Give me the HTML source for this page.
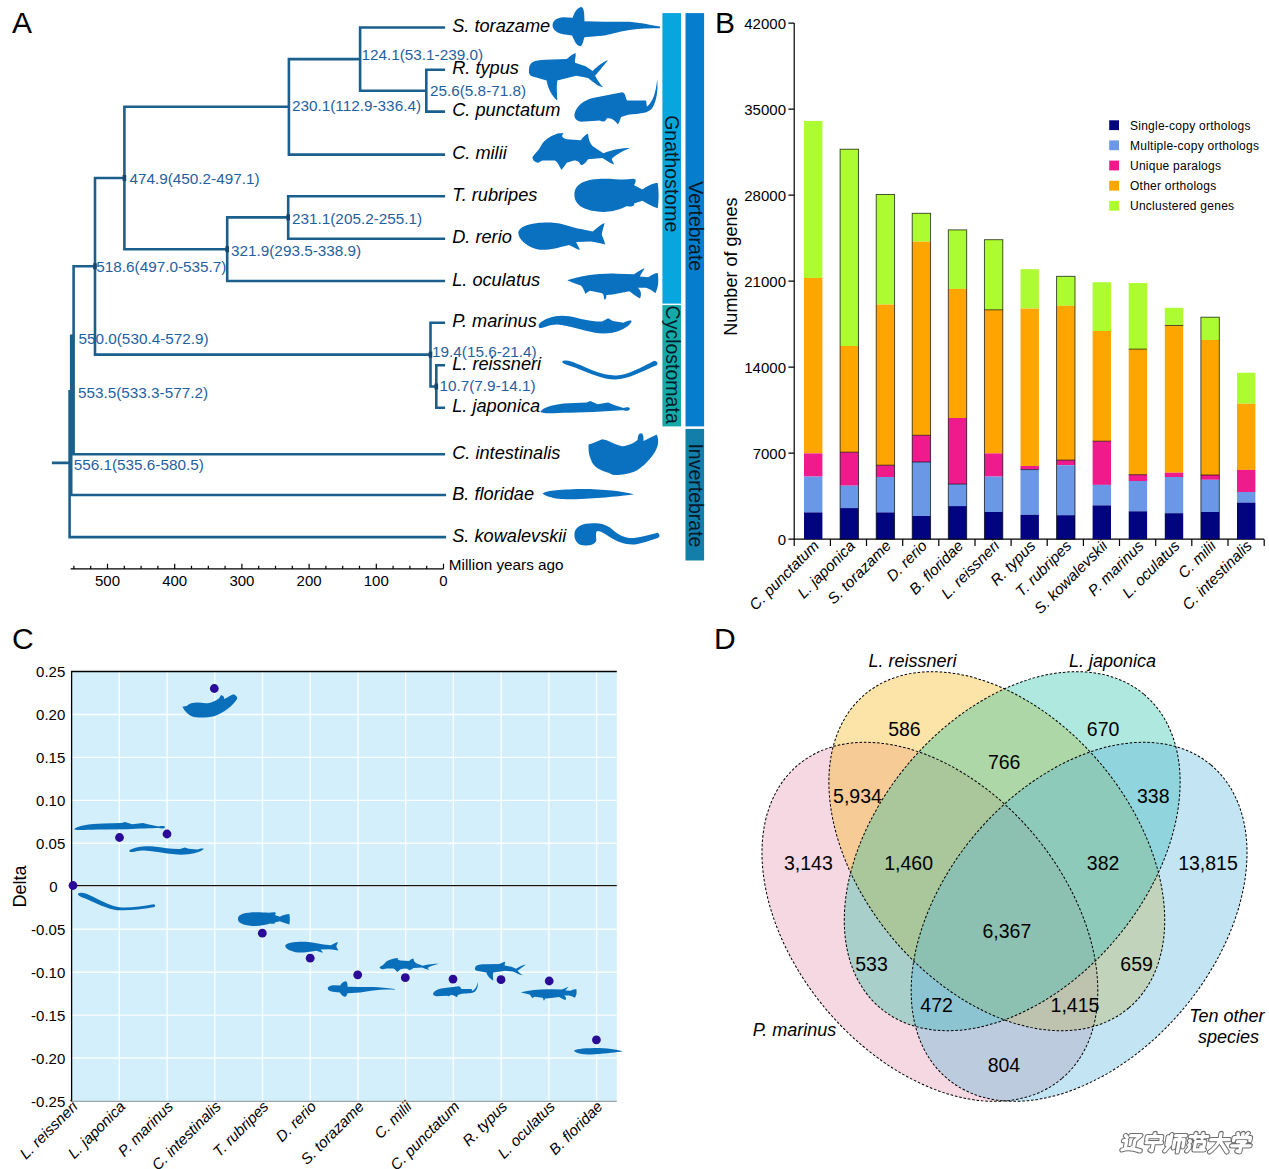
<!DOCTYPE html><html><head><meta charset="utf-8"><style>html,body{margin:0;padding:0;background:#fff;overflow:hidden}svg{display:block}</style></head><body><svg width="1269" height="1169" viewBox="0 0 1269 1169" font-family="'Liberation Sans', sans-serif">
<rect width="1269" height="1169" fill="#fff"/>
<text x="12" y="33" font-size="30" fill="#000">A</text>
<path d="M426.3 69.7V111.6 M426.3 69.7H443.8 M426.3 111.6H443.8 M360.1 27.5V90.7 M360.1 27.5H443.8 M360.1 90.7H426.3 M288.9 59.1V154.6 M288.9 59.1H360.1 M288.9 154.6H443.8 M288.2 196.2V238.7 M288.2 196.2H443.8 M288.2 238.7H443.8 M227.2 217.4V281.0 M227.2 217.4H288.2 M227.2 281.0H443.8 M124.4 106.8V249.2 M124.4 106.8H288.9 M124.4 249.2H227.2 M436.3 365.2V407.8 M436.3 365.2H443.8 M436.3 407.8H443.8 M430.5 322.7V386.5 M430.5 322.7H443.8 M430.5 386.5H436.3 M95.0 178.0V354.6 M95.0 178.0H124.4 M95.0 354.6H430.5 M73.6 266.3V454.3 M73.6 266.3H95.0 M73.6 454.3H443.8 M71.2 335.7V495.0 M71.2 495.0H444.8 M69.6 391.2V537.1 M69.6 537.1H444.8 M53.2 462.9H69.6" stroke="#1b5f8d" stroke-width="2.6" fill="none" stroke-linecap="square"/>
<rect x="122.6" y="175.0" width="3.6" height="6" fill="#17456b"/>
<rect x="225.4" y="246.2" width="3.6" height="6" fill="#17456b"/>
<rect x="93.2" y="263.3" width="3.6" height="6" fill="#17456b"/>
<rect x="286.4" y="214.4" width="3.6" height="6" fill="#17456b"/>
<rect x="428.7" y="351.6" width="3.6" height="6" fill="#17456b"/>
<rect x="434.5" y="383.5" width="3.6" height="6" fill="#17456b"/>
<text x="361.4" y="59.6" font-size="15.3" fill="#1f619f">124.1(53.1-239.0)</text>
<text x="430.0" y="96.4" font-size="15.3" fill="#1f619f">25.6(5.8-71.8)</text>
<text x="292.0" y="110.8" font-size="15.3" fill="#1f619f">230.1(112.9-336.4)</text>
<text x="129.4" y="183.5" font-size="15.3" fill="#1f619f">474.9(450.2-497.1)</text>
<text x="292.0" y="223.6" font-size="15.3" fill="#1f619f">231.1(205.2-255.1)</text>
<text x="231.0" y="256.3" font-size="15.3" fill="#1f619f">321.9(293.5-338.9)</text>
<text x="96.3" y="272.4" font-size="15.3" fill="#1f619f">518.6(497.0-535.7)</text>
<text x="78.5" y="344.3" font-size="15.3" fill="#1f619f">550.0(530.4-572.9)</text>
<text x="77.9" y="398.0" font-size="15.3" fill="#1f619f">553.5(533.3-577.2)</text>
<text x="73.7" y="470.3" font-size="15.3" fill="#1f619f">556.1(535.6-580.5)</text>
<text x="432.1" y="356.5" font-size="15.3" fill="#1f619f">19.4(15.6-21.4)</text>
<text x="439.5" y="391.2" font-size="15.3" fill="#1f619f">10.7(7.9-14.1)</text>
<text x="452.2" y="32.1" font-size="18.2" font-style="italic" fill="#000">S. torazame</text>
<text x="452.2" y="74.3" font-size="18.2" font-style="italic" fill="#000">R. typus</text>
<text x="452.2" y="116.2" font-size="18.2" font-style="italic" fill="#000">C. punctatum</text>
<text x="452.2" y="159.2" font-size="18.2" font-style="italic" fill="#000">C. milii</text>
<text x="452.2" y="200.8" font-size="18.2" font-style="italic" fill="#000">T. rubripes</text>
<text x="452.2" y="243.3" font-size="18.2" font-style="italic" fill="#000">D. rerio</text>
<text x="452.2" y="285.6" font-size="18.2" font-style="italic" fill="#000">L. oculatus</text>
<text x="452.2" y="327.3" font-size="18.2" font-style="italic" fill="#000">P. marinus</text>
<text x="452.2" y="369.8" font-size="18.2" font-style="italic" fill="#000">L. reissneri</text>
<text x="452.2" y="412.4" font-size="18.2" font-style="italic" fill="#000">L. japonica</text>
<text x="452.2" y="458.9" font-size="18.2" font-style="italic" fill="#000">C. intestinalis</text>
<text x="452.2" y="499.6" font-size="18.2" font-style="italic" fill="#000">B. floridae</text>
<text x="452.2" y="541.7" font-size="18.2" font-style="italic" fill="#000">S. kowalevskii</text>
<path d="M70.6 568.8H443.5 M443.5 568.8V563.8 M426.7 568.8V565.8 M409.9 568.8V565.8 M393.1 568.8V565.8 M376.3 568.8V563.8 M359.5 568.8V565.8 M342.7 568.8V565.8 M325.9 568.8V565.8 M309.1 568.8V563.8 M292.3 568.8V565.8 M275.5 568.8V565.8 M258.7 568.8V565.8 M241.9 568.8V563.8 M225.1 568.8V565.8 M208.3 568.8V565.8 M191.5 568.8V565.8 M174.7 568.8V563.8 M157.9 568.8V565.8 M141.1 568.8V565.8 M124.3 568.8V565.8 M107.5 568.8V563.8 M90.7 568.8V565.8 M73.9 568.8V565.8" stroke="#000" stroke-width="1.2" fill="none"/>
<text x="107.5" y="586" font-size="15" text-anchor="middle" fill="#000">500</text>
<text x="174.7" y="586" font-size="15" text-anchor="middle" fill="#000">400</text>
<text x="241.9" y="586" font-size="15" text-anchor="middle" fill="#000">300</text>
<text x="309.1" y="586" font-size="15" text-anchor="middle" fill="#000">200</text>
<text x="376.3" y="586" font-size="15" text-anchor="middle" fill="#000">100</text>
<text x="443.5" y="586" font-size="15" text-anchor="middle" fill="#000">0</text>
<text x="448.8" y="570" font-size="15.3" fill="#000">Million years ago</text>
<rect x="662.4" y="13.1" width="18.6" height="290.5" fill="#08a6de"/>
<rect x="662.4" y="305.1" width="18.6" height="121.3" fill="#14aaa8"/>
<rect x="685.5" y="13.1" width="18.6" height="413.3" fill="#047ecd"/>
<rect x="685.5" y="428.9" width="18.6" height="131.6" fill="#137eaa"/>
<text transform="translate(665.4,115.2) rotate(90)" font-size="19.5" fill="#061a2a">Gnathostome</text>
<text transform="translate(689.4,181.2) rotate(90)" font-size="19.5" fill="#061a2a">Vertebrate</text>
<text transform="translate(666.4,305.6) rotate(90)" font-size="19.5" fill="#061a2a">Cyclostomata</text>
<text transform="translate(689.4,443.4) rotate(90)" font-size="19.5" fill="#061a2a">Invertebrate</text>
<path d="M360,215 C360,170 400,150 450,145 L530,150 C540,120 560,70 600,60 C625,60 630,110 630,180 L800,185 L950,185 C1050,180 1150,205 1269,225 L1269,240 C1150,235 1050,245 950,265 L800,300 L630,315 C620,340 615,395 590,390 C555,380 540,330 525,300 L450,290 C400,280 360,250 360,215 Z" fill="#0a70c0" transform="translate(510,0) scale(0.11820)"/>
<path d="M160,600 C160,520 200,510 300,505 L480,500 C510,470 540,450 555,450 C560,480 545,510 550,530 L640,560 L700,600 C740,560 790,520 830,510 C780,570 740,620 720,640 C740,680 770,720 790,740 C740,730 700,690 660,660 L560,640 L400,680 C390,740 400,800 400,850 C360,820 320,750 310,680 L200,650 C170,640 160,630 160,600 Z" fill="#0a70c0" transform="translate(510,0) scale(0.11820)"/>
<path d="M545,970 C560,900 620,850 700,830 L950,780 C980,790 975,820 990,850 L1150,850 C1160,870 1150,890 1160,900 C1210,860 1235,780 1245,670 C1255,760 1240,860 1200,920 C1160,960 1100,960 1000,970 L940,990 C930,1020 920,1050 910,1050 C880,1010 860,1000 820,1000 C800,1040 780,1030 760,1020 L600,1030 C560,1020 545,1000 545,970 Z" fill="#0a70c0" transform="translate(510,0) scale(0.11820)"/>
<path d="M190,270 C210,240 240,220 260,180 C290,120 350,90 410,70 L455,70 C430,90 440,110 480,120 L600,130 C620,100 640,80 660,75 C665,110 670,150 700,180 L790,240 C860,210 950,195 1015,195 C950,220 880,260 860,290 C870,310 880,330 880,335 C840,320 800,290 780,280 L660,290 C640,320 620,340 600,340 C590,320 580,300 540,300 L480,320 C460,350 445,370 435,380 C420,350 400,310 380,300 L290,300 C260,300 240,320 240,320 C200,310 190,290 190,270 Z" fill="#0a70c0" transform="translate(510,125) scale(0.11820)"/>
<path d="M545,590 C545,490 650,455 800,455 C900,455 960,470 1040,455 C1080,455 1060,490 1050,510 L1120,545 C1170,510 1210,490 1250,490 C1260,560 1260,640 1250,705 C1210,690 1170,670 1120,640 L1050,665 C1060,690 1020,695 990,685 C920,720 850,735 790,735 C650,730 545,690 545,590 Z" fill="#0a70c0" transform="translate(510,125) scale(0.11820)"/>
<path d="M70,910 C80,850 200,820 350,825 C450,830 520,870 600,880 L700,900 C740,870 770,840 800,830 C790,880 770,920 780,940 C790,960 800,990 805,1010 C760,1000 720,990 680,985 L560,990 C570,1020 590,1040 590,1060 C550,1040 530,1030 500,1015 C400,1040 330,1060 250,1055 C150,1040 70,970 70,910 Z" fill="#0a70c0" transform="translate(510,125) scale(0.11820)"/>
<path d="M485,255 C600,220 750,195 900,200 L1050,205 C1090,180 1120,160 1140,155 C1120,190 1100,215 1100,225 L1170,230 C1200,210 1230,195 1250,195 C1260,260 1255,320 1230,365 C1200,340 1180,330 1150,320 L1080,320 C1110,340 1115,380 1100,410 C1070,400 1040,370 1010,350 L900,370 C850,380 820,380 815,380 C815,400 815,415 800,420 C790,400 800,380 780,365 L680,345 C660,350 640,370 640,375 C630,350 620,320 600,300 C550,280 500,265 485,255 Z" fill="#0a70c0" transform="translate(510,250) scale(0.11820)"/>
<path d="M245,625 C300,570 400,545 500,560 C600,580 700,610 780,605 L830,578 L870,600 L960,615 C990,600 1010,590 1030,600 C1020,630 980,660 930,680 C880,700 800,715 720,700 C620,680 500,640 400,630 C330,630 290,660 250,660 C240,650 240,635 245,625 Z" fill="#0a70c0" transform="translate(510,250) scale(0.11820)"/>
<path d="M440,100 C460,75 520,95 600,130 C700,175 800,220 900,215 C1000,210 1100,150 1220,90 C1250,95 1255,115 1240,130 C1120,180 1000,250 890,250 C780,245 680,200 580,160 C520,135 450,125 440,100 Z" fill="#0a70c0" transform="translate(510,350) scale(0.11820)"/>
<path d="M255,525 C280,480 380,455 500,450 L650,445 L680,432 L740,460 L830,445 L880,465 L960,490 C990,480 1010,485 1015,495 C1010,515 990,520 960,510 C900,510 800,520 700,525 L500,530 C400,530 300,545 255,525 Z" fill="#0a70c0" transform="translate(510,350) scale(0.11820)"/>
<path d="M665,800 C700,790 740,770 780,755 C830,760 880,800 950,815 C1010,810 1060,780 1080,760 C1080,730 1090,705 1110,705 C1130,710 1130,740 1130,770 C1170,750 1210,730 1240,715 C1258,745 1260,800 1235,845 C1200,910 1130,990 1050,1030 C950,1060 880,1070 840,1040 C760,1020 720,990 700,960 C680,920 660,880 665,800 Z" fill="#0a70c0" transform="translate(510,350) scale(0.11820)"/>
<path d="M275,285 C300,260 400,250 600,245 C800,245 950,265 1050,290 C950,305 800,320 600,330 C450,338 350,330 275,285 Z" fill="#0a70c0" transform="translate(510,460) scale(0.11820)"/>
<path d="M545,630 C545,560 620,535 700,535 C780,535 830,550 880,600 C930,640 990,665 1050,660 C1120,650 1180,630 1250,615 C1270,630 1270,650 1250,660 C1180,680 1110,710 1050,715 C980,720 900,690 840,650 C800,620 770,600 740,600 C720,610 730,640 730,680 C720,720 650,730 600,720 C560,700 545,670 545,630 Z" fill="#0a70c0" transform="translate(510,460) scale(0.11820)"/>
<text x="715" y="33" font-size="30" fill="#000">B</text>
<path d="M794.2 23V539.1 M794.2 539.1H1264 M788.4 539.1H794.2 M788.4 453.1H794.2 M788.4 367.1H794.2 M788.4 281.1H794.2 M788.4 195.1H794.2 M788.4 109.1H794.2 M788.4 23.1H794.2 M794.2 539.3V546 M830.4 539.3V546 M866.5 539.3V546 M902.7 539.3V546 M938.8 539.3V546 M975.0 539.3V546 M1011.1 539.3V546 M1047.2 539.3V546 M1083.4 539.3V546 M1119.5 539.3V546 M1155.7 539.3V546 M1191.8 539.3V546 M1228.0 539.3V546 M1264.2 539.3V546" stroke="#000" stroke-width="1.2" fill="none"/>
<text x="786" y="544.5" font-size="15" text-anchor="end" fill="#000">0</text>
<text x="786" y="458.5" font-size="15" text-anchor="end" fill="#000">7000</text>
<text x="786" y="372.5" font-size="15" text-anchor="end" fill="#000">14000</text>
<text x="786" y="286.5" font-size="15" text-anchor="end" fill="#000">21000</text>
<text x="786" y="200.5" font-size="15" text-anchor="end" fill="#000">28000</text>
<text x="786" y="114.5" font-size="15" text-anchor="end" fill="#000">35000</text>
<text x="786" y="28.5" font-size="15" text-anchor="end" fill="#000">42000</text>
<text transform="translate(737.4,266.6) rotate(-90)" font-size="18" text-anchor="middle" fill="#000">Number of genes</text>
<rect x="804.0" y="120.9" width="18.4" height="157.0" fill="#adfb31"/>
<rect x="804.0" y="277.9" width="18.4" height="175.5" fill="#fea500"/>
<rect x="804.0" y="453.4" width="18.4" height="23.2" fill="#ef1a8c"/>
<rect x="804.0" y="476.6" width="18.4" height="35.8" fill="#6a98e6"/>
<rect x="804.0" y="512.4" width="18.4" height="26.7" fill="#02037e"/>
<rect x="840.1" y="149.2" width="18.4" height="196.8" fill="#adfb31"/>
<rect x="840.1" y="346.0" width="18.4" height="106.2" fill="#fea500"/>
<rect x="840.1" y="452.2" width="18.4" height="33.5" fill="#ef1a8c"/>
<rect x="840.1" y="485.7" width="18.4" height="22.4" fill="#6a98e6"/>
<rect x="840.1" y="508.1" width="18.4" height="31.0" fill="#02037e"/>
<path d="M840.1 452.2h18.4" stroke="#000" stroke-opacity="0.7" stroke-width="0.9"/>
<rect x="840.1" y="149.2" width="18.4" height="389.9" fill="none" stroke="#000" stroke-opacity="0.75" stroke-width="0.9"/>
<rect x="876.2" y="194.5" width="18.4" height="110.1" fill="#adfb31"/>
<rect x="876.2" y="304.6" width="18.4" height="160.6" fill="#fea500"/>
<rect x="876.2" y="465.2" width="18.4" height="11.8" fill="#ef1a8c"/>
<rect x="876.2" y="477.0" width="18.4" height="35.4" fill="#6a98e6"/>
<rect x="876.2" y="512.4" width="18.4" height="26.7" fill="#02037e"/>
<path d="M876.2 465.2h18.4" stroke="#000" stroke-opacity="0.7" stroke-width="0.9"/>
<rect x="876.2" y="194.5" width="18.4" height="344.6" fill="none" stroke="#000" stroke-opacity="0.75" stroke-width="0.9"/>
<rect x="912.2" y="213.3" width="18.4" height="28.4" fill="#adfb31"/>
<rect x="912.2" y="241.7" width="18.4" height="193.6" fill="#fea500"/>
<rect x="912.2" y="435.3" width="18.4" height="26.7" fill="#ef1a8c"/>
<rect x="912.2" y="462.0" width="18.4" height="54.0" fill="#6a98e6"/>
<rect x="912.2" y="516.0" width="18.4" height="23.1" fill="#02037e"/>
<path d="M912.2 435.3h18.4" stroke="#000" stroke-opacity="0.7" stroke-width="0.9"/>
<path d="M912.2 462.0h18.4" stroke="#000" stroke-opacity="0.7" stroke-width="0.9"/>
<rect x="912.2" y="213.3" width="18.4" height="325.8" fill="none" stroke="#000" stroke-opacity="0.75" stroke-width="0.9"/>
<rect x="948.3" y="229.9" width="18.4" height="59.0" fill="#adfb31"/>
<rect x="948.3" y="288.9" width="18.4" height="129.1" fill="#fea500"/>
<rect x="948.3" y="418.0" width="18.4" height="66.1" fill="#ef1a8c"/>
<rect x="948.3" y="484.1" width="18.4" height="22.0" fill="#6a98e6"/>
<rect x="948.3" y="506.1" width="18.4" height="33.0" fill="#02037e"/>
<path d="M948.3 484.1h18.4" stroke="#000" stroke-opacity="0.7" stroke-width="0.9"/>
<rect x="948.3" y="229.9" width="18.4" height="309.2" fill="none" stroke="#000" stroke-opacity="0.75" stroke-width="0.9"/>
<rect x="984.4" y="239.7" width="18.4" height="70.1" fill="#adfb31"/>
<rect x="984.4" y="309.8" width="18.4" height="143.6" fill="#fea500"/>
<rect x="984.4" y="453.4" width="18.4" height="23.2" fill="#ef1a8c"/>
<rect x="984.4" y="476.6" width="18.4" height="35.4" fill="#6a98e6"/>
<rect x="984.4" y="512.0" width="18.4" height="27.1" fill="#02037e"/>
<path d="M984.4 309.8h18.4" stroke="#000" stroke-opacity="0.7" stroke-width="0.9"/>
<rect x="984.4" y="239.7" width="18.4" height="299.4" fill="none" stroke="#000" stroke-opacity="0.75" stroke-width="0.9"/>
<rect x="1020.5" y="269.2" width="18.4" height="39.4" fill="#adfb31"/>
<rect x="1020.5" y="308.6" width="18.4" height="157.4" fill="#fea500"/>
<rect x="1020.5" y="466.0" width="18.4" height="3.6" fill="#ef1a8c"/>
<rect x="1020.5" y="469.6" width="18.4" height="45.2" fill="#6a98e6"/>
<rect x="1020.5" y="514.8" width="18.4" height="24.3" fill="#02037e"/>
<path d="M1020.5 469.6h18.4" stroke="#000" stroke-opacity="0.7" stroke-width="0.9"/>
<rect x="1056.6" y="276.3" width="18.4" height="29.5" fill="#adfb31"/>
<rect x="1056.6" y="305.8" width="18.4" height="154.3" fill="#fea500"/>
<rect x="1056.6" y="460.1" width="18.4" height="5.1" fill="#ef1a8c"/>
<rect x="1056.6" y="465.2" width="18.4" height="50.0" fill="#6a98e6"/>
<rect x="1056.6" y="515.2" width="18.4" height="23.9" fill="#02037e"/>
<path d="M1056.6 460.1h18.4" stroke="#000" stroke-opacity="0.7" stroke-width="0.9"/>
<rect x="1056.6" y="276.3" width="18.4" height="262.8" fill="none" stroke="#000" stroke-opacity="0.75" stroke-width="0.9"/>
<rect x="1092.6" y="282.2" width="18.4" height="48.8" fill="#adfb31"/>
<rect x="1092.6" y="331.0" width="18.4" height="110.2" fill="#fea500"/>
<rect x="1092.6" y="441.2" width="18.4" height="43.7" fill="#ef1a8c"/>
<rect x="1092.6" y="484.9" width="18.4" height="20.5" fill="#6a98e6"/>
<rect x="1092.6" y="505.4" width="18.4" height="33.7" fill="#02037e"/>
<path d="M1092.6 441.2h18.4" stroke="#000" stroke-opacity="0.7" stroke-width="0.9"/>
<rect x="1128.7" y="283.0" width="18.4" height="66.1" fill="#adfb31"/>
<rect x="1128.7" y="349.1" width="18.4" height="125.6" fill="#fea500"/>
<rect x="1128.7" y="474.7" width="18.4" height="6.3" fill="#ef1a8c"/>
<rect x="1128.7" y="481.0" width="18.4" height="30.3" fill="#6a98e6"/>
<rect x="1128.7" y="511.3" width="18.4" height="27.8" fill="#02037e"/>
<path d="M1128.7 349.1h18.4" stroke="#000" stroke-opacity="0.7" stroke-width="0.9"/>
<path d="M1128.7 474.7h18.4" stroke="#000" stroke-opacity="0.7" stroke-width="0.9"/>
<rect x="1164.8" y="307.8" width="18.4" height="17.7" fill="#adfb31"/>
<rect x="1164.8" y="325.5" width="18.4" height="147.2" fill="#fea500"/>
<rect x="1164.8" y="472.7" width="18.4" height="4.3" fill="#ef1a8c"/>
<rect x="1164.8" y="477.0" width="18.4" height="36.2" fill="#6a98e6"/>
<rect x="1164.8" y="513.2" width="18.4" height="25.9" fill="#02037e"/>
<path d="M1164.8 325.5h18.4" stroke="#000" stroke-opacity="0.7" stroke-width="0.9"/>
<rect x="1200.9" y="317.2" width="18.4" height="22.8" fill="#adfb31"/>
<rect x="1200.9" y="340.0" width="18.4" height="135.0" fill="#fea500"/>
<rect x="1200.9" y="475.0" width="18.4" height="4.8" fill="#ef1a8c"/>
<rect x="1200.9" y="479.8" width="18.4" height="32.2" fill="#6a98e6"/>
<rect x="1200.9" y="512.0" width="18.4" height="27.1" fill="#02037e"/>
<path d="M1200.9 475.0h18.4" stroke="#000" stroke-opacity="0.7" stroke-width="0.9"/>
<rect x="1200.9" y="317.2" width="18.4" height="221.9" fill="none" stroke="#000" stroke-opacity="0.75" stroke-width="0.9"/>
<rect x="1237.0" y="372.7" width="18.4" height="31.1" fill="#adfb31"/>
<rect x="1237.0" y="403.8" width="18.4" height="66.1" fill="#fea500"/>
<rect x="1237.0" y="469.9" width="18.4" height="22.1" fill="#ef1a8c"/>
<rect x="1237.0" y="492.0" width="18.4" height="10.6" fill="#6a98e6"/>
<rect x="1237.0" y="502.6" width="18.4" height="36.5" fill="#02037e"/>
<rect x="1109.2" y="120.3" width="9.8" height="9.8" fill="#02037e"/>
<text x="1130" y="129.7" font-size="12" letter-spacing="0.25" fill="#000">Single-copy orthologs</text>
<rect x="1109.2" y="140.4" width="9.8" height="9.8" fill="#6a98e6"/>
<text x="1130" y="149.8" font-size="12" letter-spacing="0.25" fill="#000">Multiple-copy orthologs</text>
<rect x="1109.2" y="160.6" width="9.8" height="9.8" fill="#ef1a8c"/>
<text x="1130" y="170.0" font-size="12" letter-spacing="0.25" fill="#000">Unique paralogs</text>
<rect x="1109.2" y="180.8" width="9.8" height="9.8" fill="#fea500"/>
<text x="1130" y="190.2" font-size="12" letter-spacing="0.25" fill="#000">Other orthologs</text>
<rect x="1109.2" y="200.9" width="9.8" height="9.8" fill="#adfb31"/>
<text x="1130" y="210.3" font-size="12" letter-spacing="0.25" fill="#000">Unclustered genes</text>
<text transform="translate(819.9,546.8) rotate(-45)" font-size="15.3" font-style="italic" text-anchor="end" fill="#000">C. punctatum</text>
<text transform="translate(856.0,546.8) rotate(-45)" font-size="15.3" font-style="italic" text-anchor="end" fill="#000">L. japonica</text>
<text transform="translate(892.1,546.8) rotate(-45)" font-size="15.3" font-style="italic" text-anchor="end" fill="#000">S. torazame</text>
<text transform="translate(928.1,546.8) rotate(-45)" font-size="15.3" font-style="italic" text-anchor="end" fill="#000">D. rerio</text>
<text transform="translate(964.2,546.8) rotate(-45)" font-size="15.3" font-style="italic" text-anchor="end" fill="#000">B. floridae</text>
<text transform="translate(1000.3,546.8) rotate(-45)" font-size="15.3" font-style="italic" text-anchor="end" fill="#000">L. reissneri</text>
<text transform="translate(1036.4,546.8) rotate(-45)" font-size="15.3" font-style="italic" text-anchor="end" fill="#000">R. typus</text>
<text transform="translate(1072.5,546.8) rotate(-45)" font-size="15.3" font-style="italic" text-anchor="end" fill="#000">T. rubripes</text>
<text transform="translate(1108.5,546.8) rotate(-45)" font-size="15.3" font-style="italic" text-anchor="end" fill="#000">S. kowalevskii</text>
<text transform="translate(1144.6,546.8) rotate(-45)" font-size="15.3" font-style="italic" text-anchor="end" fill="#000">P. marinus</text>
<text transform="translate(1180.7,546.8) rotate(-45)" font-size="15.3" font-style="italic" text-anchor="end" fill="#000">L. oculatus</text>
<text transform="translate(1216.8,546.8) rotate(-45)" font-size="15.3" font-style="italic" text-anchor="end" fill="#000">C. milii</text>
<text transform="translate(1252.9,546.8) rotate(-45)" font-size="15.3" font-style="italic" text-anchor="end" fill="#000">C. intestinalis</text>
<text x="12" y="649" font-size="30" fill="#000">C</text>
<rect x="71.6" y="671.5" width="545.1999999999999" height="429.9000000000001" fill="#d2effb"/>
<path d="M119.3 671.5V1101.4 M167.1 671.5V1101.4 M214.8 671.5V1101.4 M262.5 671.5V1101.4 M310.2 671.5V1101.4 M358.0 671.5V1101.4 M405.7 671.5V1101.4 M453.4 671.5V1101.4 M501.2 671.5V1101.4 M548.9 671.5V1101.4 M596.6 671.5V1101.4 M71.6 714.5H616.8 M71.6 757.4H616.8 M71.6 800.4H616.8 M71.6 843.3H616.8 M71.6 886.2H616.8 M71.6 929.2H616.8 M71.6 972.2H616.8 M71.6 1015.1H616.8 M71.6 1058.0H616.8" stroke="#fff" stroke-opacity="0.9" stroke-width="1.4" fill="none"/>
<path d="M616.8 671.5H71.6V1101.4" stroke="#000" stroke-width="1.3" fill="none"/>
<path d="M71.6 1101.4H616.8" stroke="#9aa6ab" stroke-width="1.3" fill="none"/>
<path d="M71.6 885.7H616.8" stroke="#111" stroke-width="1.2" fill="none"/>
<text x="65.3" y="677.1" font-size="15" text-anchor="end" fill="#000">0.25</text>
<text x="65.3" y="720.1" font-size="15" text-anchor="end" fill="#000">0.20</text>
<text x="65.3" y="763.0" font-size="15" text-anchor="end" fill="#000">0.15</text>
<text x="65.3" y="806.0" font-size="15" text-anchor="end" fill="#000">0.10</text>
<text x="65.3" y="848.9" font-size="15" text-anchor="end" fill="#000">0.05</text>
<text x="57.5" y="891.9" font-size="15" text-anchor="end" fill="#000">0</text>
<text x="65.3" y="934.8" font-size="15" text-anchor="end" fill="#000">-0.05</text>
<text x="65.3" y="977.8" font-size="15" text-anchor="end" fill="#000">-0.10</text>
<text x="65.3" y="1020.7" font-size="15" text-anchor="end" fill="#000">-0.15</text>
<text x="65.3" y="1063.6" font-size="15" text-anchor="end" fill="#000">-0.20</text>
<text x="65.3" y="1106.6" font-size="15" text-anchor="end" fill="#000">-0.25</text>
<text transform="translate(26.3,886.4) rotate(-90)" font-size="18" text-anchor="middle" fill="#000">Delta</text>
<text transform="translate(78.6,1107.5) rotate(-45)" font-size="15.2" font-style="italic" text-anchor="end" fill="#000">L. reissneri</text>
<text transform="translate(126.3,1107.5) rotate(-45)" font-size="15.2" font-style="italic" text-anchor="end" fill="#000">L. japonica</text>
<text transform="translate(174.1,1107.5) rotate(-45)" font-size="15.2" font-style="italic" text-anchor="end" fill="#000">P. marinus</text>
<text transform="translate(221.8,1107.5) rotate(-45)" font-size="15.2" font-style="italic" text-anchor="end" fill="#000">C. intestinalis</text>
<text transform="translate(269.5,1107.5) rotate(-45)" font-size="15.2" font-style="italic" text-anchor="end" fill="#000">T. rubripes</text>
<text transform="translate(317.2,1107.5) rotate(-45)" font-size="15.2" font-style="italic" text-anchor="end" fill="#000">D. rerio</text>
<text transform="translate(365.0,1107.5) rotate(-45)" font-size="15.2" font-style="italic" text-anchor="end" fill="#000">S. torazame</text>
<text transform="translate(412.7,1107.5) rotate(-45)" font-size="15.2" font-style="italic" text-anchor="end" fill="#000">C. milii</text>
<text transform="translate(460.4,1107.5) rotate(-45)" font-size="15.2" font-style="italic" text-anchor="end" fill="#000">C. punctatum</text>
<text transform="translate(508.2,1107.5) rotate(-45)" font-size="15.2" font-style="italic" text-anchor="end" fill="#000">R. typus</text>
<text transform="translate(555.9,1107.5) rotate(-45)" font-size="15.2" font-style="italic" text-anchor="end" fill="#000">L. oculatus</text>
<text transform="translate(603.6,1107.5) rotate(-45)" font-size="15.2" font-style="italic" text-anchor="end" fill="#000">B. floridae</text>
<circle cx="73" cy="885.5" r="4.4" fill="#2a0a96"/>
<circle cx="119.5" cy="837.5" r="4.4" fill="#2a0a96"/>
<circle cx="167" cy="834" r="4.4" fill="#2a0a96"/>
<circle cx="214.3" cy="688.5" r="4.4" fill="#2a0a96"/>
<circle cx="262.3" cy="933.2" r="4.4" fill="#2a0a96"/>
<circle cx="310.2" cy="958.2" r="4.4" fill="#2a0a96"/>
<circle cx="357.7" cy="974.8" r="4.4" fill="#2a0a96"/>
<circle cx="405.3" cy="977.7" r="4.4" fill="#2a0a96"/>
<circle cx="453" cy="979.1" r="4.4" fill="#2a0a96"/>
<circle cx="501" cy="979.7" r="4.4" fill="#2a0a96"/>
<circle cx="549.2" cy="981" r="4.4" fill="#2a0a96"/>
<circle cx="596.4" cy="1039.8" r="4.4" fill="#2a0a96"/>
<path d="M255,525 C280,480 380,455 500,450 L650,445 L680,432 L740,460 L830,445 L880,465 L960,490 C990,480 1010,485 1015,495 C1010,515 990,520 960,510 C900,510 800,520 700,525 L500,530 C400,530 300,545 255,525 Z" fill="#0a6fbb" transform="translate(43.400,788.447) scale(0.12000,0.07767)"/>
<path d="M245,625 C300,570 400,545 500,560 C600,580 700,610 780,605 L830,578 L870,600 L960,615 C990,600 1010,590 1030,600 C1020,630 980,660 930,680 C880,700 800,715 720,700 C620,680 500,640 400,630 C330,630 290,660 250,660 C240,650 240,635 245,625 Z" fill="#0a6fbb" transform="translate(106.575,814.950) scale(0.09430,0.05625)"/>
<path d="M715,215 L740,210 C760,190 800,185 850,195 C880,195 910,180 930,165 L940,148 C955,145 960,160 960,170 C980,160 1000,145 1015,142 C1030,150 1040,160 1035,170 C1010,210 960,250 900,270 C860,280 800,282 770,270 C740,255 730,240 715,215 Z" fill="#0a6fbb" transform="translate(60,670) scale(0.17109)"/>
<path d="M545,590 C545,490 650,455 800,455 C900,455 960,470 1040,455 C1080,455 1060,490 1050,510 L1120,545 C1170,510 1210,490 1250,490 C1260,560 1260,640 1250,705 C1210,690 1170,670 1120,640 L1050,665 C1060,690 1020,695 990,685 C920,720 850,735 790,735 C650,730 545,690 545,590 Z" fill="#0a6fbb" transform="translate(198.152,890.037) scale(0.07293,0.04893)"/>
<path d="M70,910 C80,850 200,820 350,825 C450,830 520,870 600,880 L700,900 C740,870 770,840 800,830 C790,880 770,920 780,940 C790,960 800,990 805,1010 C760,1000 720,990 680,985 L560,990 C570,1020 590,1040 590,1060 C550,1040 530,1030 500,1015 C400,1040 330,1060 250,1055 C150,1040 70,970 70,910 Z" fill="#0a6fbb" transform="translate(280.133,903.183) scale(0.07238,0.04681)"/>
<path d="M360,215 C360,170 400,150 450,145 L530,150 C540,120 560,70 600,60 C625,60 630,110 630,180 L800,185 L950,185 C1050,180 1150,205 1269,225 L1269,240 C1150,235 1050,245 950,265 L800,300 L630,315 C620,340 615,395 590,390 C555,380 540,330 525,300 L450,290 C400,280 360,250 360,215 Z" fill="#0a6fbb" transform="translate(301.165,978.388) scale(0.07371,0.04687)"/>
<path d="M190,270 C210,240 240,220 260,180 C290,120 350,90 410,70 L455,70 C430,90 440,110 480,120 L600,130 C620,100 640,80 660,75 C665,110 670,150 700,180 L790,240 C860,210 950,195 1015,195 C950,220 880,260 860,290 C870,310 880,330 880,335 C840,320 800,290 780,280 L660,290 C640,320 620,340 600,340 C590,320 580,300 540,300 L480,320 C460,350 445,370 435,380 C420,350 400,310 380,300 L290,300 C260,300 240,320 240,320 C200,310 190,290 190,270 Z" fill="#0a6fbb" transform="translate(366.089,955.206) scale(0.07164,0.04419)"/>
<path d="M545,970 C560,900 620,850 700,830 L950,780 C980,790 975,820 990,850 L1150,850 C1160,870 1150,890 1160,900 C1210,860 1235,780 1245,670 C1255,760 1240,860 1200,920 C1160,960 1100,960 1000,970 L940,990 C930,1020 920,1050 910,1050 C880,1010 860,1000 820,1000 C800,1040 780,1030 760,1020 L600,1030 C560,1020 545,1000 545,970 Z" fill="#0a6fbb" transform="translate(398.213,955.553) scale(0.06383,0.03947)"/>
<path d="M160,600 C160,520 200,510 300,505 L480,500 C510,470 540,450 555,450 C560,480 545,510 550,530 L640,560 L700,600 C740,560 790,520 830,510 C780,570 740,620 720,640 C740,680 770,720 790,740 C740,730 700,690 660,660 L560,640 L400,680 C390,740 400,800 400,850 C360,820 320,750 310,680 L200,650 C170,640 160,630 160,600 Z" fill="#0a6fbb" transform="translate(462.821,940.550) scale(0.07612,0.04700)"/>
<path d="M485,255 C600,220 750,195 900,200 L1050,205 C1090,180 1120,160 1140,155 C1120,190 1100,215 1100,225 L1170,230 C1200,210 1230,195 1250,195 C1260,260 1255,320 1230,365 C1200,340 1180,330 1150,320 L1080,320 C1110,340 1115,380 1100,410 C1070,400 1040,370 1010,350 L900,370 C850,380 820,380 815,380 C815,400 815,415 800,420 C790,400 800,380 780,365 L680,345 C660,350 640,370 640,375 C630,350 620,320 600,300 C550,280 500,265 485,255 Z" fill="#0a6fbb" transform="translate(485.944,979.045) scale(0.07228,0.05132)"/>
<path d="M275,285 C300,260 400,250 600,245 C800,245 950,265 1050,290 C950,305 800,320 600,330 C450,338 350,330 275,285 Z" fill="#0a6fbb" transform="translate(556.477,1029.903) scale(0.06335,0.07386)"/>
<path d="M300,52 C310,45 330,50 360,65 C400,85 430,100 460,105 C500,108 550,100 590,93 C600,95 598,102 590,105 C540,115 490,118 450,116 C410,110 370,90 330,72 C310,65 298,60 300,52 Z" fill="#0a6fbb" transform="translate(0,880) scale(0.26008)"/>
<text x="714" y="649" font-size="30" fill="#000">D</text>
<ellipse cx="929.9" cy="921.8" rx="204.9" ry="135.8" transform="rotate(49.93 929.9 921.8)" fill="#e693ae" fill-opacity="0.36"/>
<ellipse cx="996.8" cy="851.2" rx="204.9" ry="135.8" transform="rotate(49.93 996.8 851.2)" fill="#f7b40d" fill-opacity="0.36"/>
<ellipse cx="1012.2" cy="851.2" rx="204.9" ry="135.8" transform="rotate(-49.93 1012.2 851.2)" fill="#21bfa3" fill-opacity="0.36"/>
<ellipse cx="1079.1" cy="921.8" rx="204.9" ry="135.8" transform="rotate(-49.93 1079.1 921.8)" fill="#58b4db" fill-opacity="0.36"/>
<ellipse cx="929.9" cy="921.8" rx="204.9" ry="135.8" transform="rotate(49.93 929.9 921.8)" fill="none" stroke="#000" stroke-width="1" stroke-dasharray="2.6 1.8"/>
<ellipse cx="996.8" cy="851.2" rx="204.9" ry="135.8" transform="rotate(49.93 996.8 851.2)" fill="none" stroke="#000" stroke-width="1" stroke-dasharray="2.6 1.8"/>
<ellipse cx="1012.2" cy="851.2" rx="204.9" ry="135.8" transform="rotate(-49.93 1012.2 851.2)" fill="none" stroke="#000" stroke-width="1" stroke-dasharray="2.6 1.8"/>
<ellipse cx="1079.1" cy="921.8" rx="204.9" ry="135.8" transform="rotate(-49.93 1079.1 921.8)" fill="none" stroke="#000" stroke-width="1" stroke-dasharray="2.6 1.8"/>
<text x="904.4" y="735.5" font-size="19.5" text-anchor="middle" fill="#000">586</text>
<text x="1103.1" y="735.5" font-size="19.5" text-anchor="middle" fill="#000">670</text>
<text x="1004.2" y="769.0" font-size="19.5" text-anchor="middle" fill="#000">766</text>
<text x="857.5" y="803.0" font-size="19.5" text-anchor="middle" fill="#000">5,934</text>
<text x="1153.3" y="803.0" font-size="19.5" text-anchor="middle" fill="#000">338</text>
<text x="808.4" y="870.0" font-size="19.5" text-anchor="middle" fill="#000">3,143</text>
<text x="908.6" y="870.0" font-size="19.5" text-anchor="middle" fill="#000">1,460</text>
<text x="1103.1" y="870.0" font-size="19.5" text-anchor="middle" fill="#000">382</text>
<text x="1208" y="870.0" font-size="19.5" text-anchor="middle" fill="#000">13,815</text>
<text x="1006.9" y="937.7" font-size="19.5" text-anchor="middle" fill="#000">6,367</text>
<text x="871.5" y="971.0" font-size="19.5" text-anchor="middle" fill="#000">533</text>
<text x="1136.6" y="971.0" font-size="19.5" text-anchor="middle" fill="#000">659</text>
<text x="936.6" y="1011.7" font-size="19.5" text-anchor="middle" fill="#000">472</text>
<text x="1075" y="1011.7" font-size="19.5" text-anchor="middle" fill="#000">1,415</text>
<text x="1003.9" y="1071.7" font-size="19.5" text-anchor="middle" fill="#000">804</text>
<text x="912.5" y="666.7" font-size="18" font-style="italic" text-anchor="middle" fill="#000">L. reissneri</text>
<text x="1112.5" y="666.5" font-size="18" font-style="italic" text-anchor="middle" fill="#000">L. japonica</text>
<text x="794.5" y="1035.6" font-size="18" font-style="italic" text-anchor="middle" fill="#000">P. marinus</text>
<text x="1226.9" y="1022" font-size="18" font-style="italic" text-anchor="middle" fill="#000">Ten other</text>
<text x="1228.5" y="1043" font-size="18" font-style="italic" text-anchor="middle" fill="#000">species</text>
<g fill="none" stroke="#6f6f6f" stroke-width="5.2" stroke-linecap="round" stroke-linejoin="round"><path d="M3,3 L5,5 M2,8 L5,8 L5,15 M2,17 Q8,14 20,18 M8,3 L18,3 L13,8 M13,8 L13,14 L11,15" transform="translate(1123,1132.5) skewX(-10) scale(1.02)"/><path d="M10,1 L10,3 M3,7 L3,4 L17,4 L17,7 M3,10 L18,10 M10,10 L10,18 L8,17" transform="translate(1145,1132.5) skewX(-10) scale(1.02)"/><path d="M2,4 L2,12 M5,2 L5,12 L1,18 M9,3 L19,3 M9,7 L9,15 M9,7 L18,7 L18,14 M13.5,3 L13.5,19" transform="translate(1167,1132.5) skewX(-10) scale(1.02)"/><path d="M2,4 L19,4 M7,1 L7,6 M14,1 L14,6 M2,8 L3,9 M2,12 L3,13 M1,18 L3,15 M8,9 L17,9 L17,14 L14,14 M8,9 L8,17 L18,17" transform="translate(1189,1132.5) skewX(-10) scale(1.02)"/><path d="M1,7 L19,7 M10,1 L10,7 Q8,14 2,19 M10,8 L19,19" transform="translate(1211,1132.5) skewX(-10) scale(1.02)"/><path d="M5,1 L6,4 M10,1 L10,3 M15,1 L13,4 M2,8 L2,5 L18,5 L18,8 M6,9 L14,9 L10,12 M1,13 L19,13 M10,12 L10,19 L7,18" transform="translate(1233,1132.5) skewX(-10) scale(1.02)"/></g>
<g fill="none" stroke="#fff" stroke-width="3.2" stroke-linecap="round" stroke-linejoin="round"><path d="M3,3 L5,5 M2,8 L5,8 L5,15 M2,17 Q8,14 20,18 M8,3 L18,3 L13,8 M13,8 L13,14 L11,15" transform="translate(1123,1132.5) skewX(-10) scale(1.02)"/><path d="M10,1 L10,3 M3,7 L3,4 L17,4 L17,7 M3,10 L18,10 M10,10 L10,18 L8,17" transform="translate(1145,1132.5) skewX(-10) scale(1.02)"/><path d="M2,4 L2,12 M5,2 L5,12 L1,18 M9,3 L19,3 M9,7 L9,15 M9,7 L18,7 L18,14 M13.5,3 L13.5,19" transform="translate(1167,1132.5) skewX(-10) scale(1.02)"/><path d="M2,4 L19,4 M7,1 L7,6 M14,1 L14,6 M2,8 L3,9 M2,12 L3,13 M1,18 L3,15 M8,9 L17,9 L17,14 L14,14 M8,9 L8,17 L18,17" transform="translate(1189,1132.5) skewX(-10) scale(1.02)"/><path d="M1,7 L19,7 M10,1 L10,7 Q8,14 2,19 M10,8 L19,19" transform="translate(1211,1132.5) skewX(-10) scale(1.02)"/><path d="M5,1 L6,4 M10,1 L10,3 M15,1 L13,4 M2,8 L2,5 L18,5 L18,8 M6,9 L14,9 L10,12 M1,13 L19,13 M10,12 L10,19 L7,18" transform="translate(1233,1132.5) skewX(-10) scale(1.02)"/></g>
</svg></body></html>
